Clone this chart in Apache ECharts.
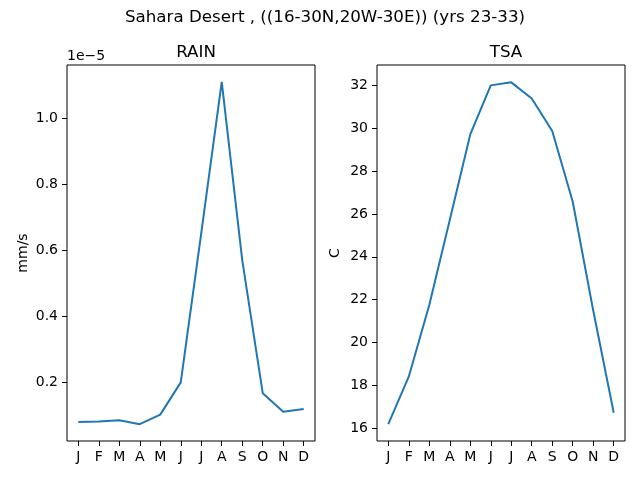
<!DOCTYPE html>
<html>
<head>
<meta charset="utf-8">
<script src="https://cdn.jsdelivr.net/npm/echarts@6/dist/echarts.min.js"></script>
<style>
  html, body { margin: 0; padding: 0; background: #fff; }
  #chart { width: 640px; height: 480px; }
</style>
</head>
<body>
<div id="chart"></div>
<script>
// month initials on the x axis
var months = ['J', 'F', 'M', 'A', 'M', 'J', 'J', 'A', 'S', 'O', 'N', 'D'];
// rain, in units of 1e-5 mm/s
var rain = [0.080, 0.081, 0.085, 0.073, 0.102, 0.200, 0.653, 1.112, 0.571, 0.167, 0.111, 0.119];
// surface air temperature, C
var tsa = [16.20, 18.41, 21.75, 25.72, 29.71, 32.00, 32.14, 31.39, 29.87, 26.57, 21.50, 16.73];
var rainTicks = [0.2, 0.4, 0.6, 0.8, 1.0];
var tsaTicks = [16, 18, 20, 22, 24, 26, 28, 30, 32];

var FONT = 'DejaVu Sans';
var monthIdx = months.map(function (m, i) { return i; });

function pairs(vals) {
    return vals.map(function (v, i) { return [i, v]; });
}

function xAxisOf(gridIndex) {
    return {
        type: 'value',
        gridIndex: gridIndex,
        min: -0.55,
        max: 11.55,
        splitLine: { show: false },
        axisLine: { show: false, onZero: false },
        axisTick: {
            show: true,
            customValues: monthIdx,
            length: 5,
            lineStyle: { color: '#000', width: 1 }
        },
        axisLabel: {
            show: true,
            customValues: monthIdx,
            margin: 9,
            color: '#000',
            fontFamily: FONT,
            fontSize: 14,
            formatter: function (v) { return months[Math.round(v)]; }
        }
    };
}

function yAxisOf(gridIndex, min, max, ticks, digits) {
    return {
        type: 'value',
        gridIndex: gridIndex,
        min: min,
        max: max,
        splitLine: { show: false },
        axisLine: { show: false, onZero: false },
        axisTick: {
            show: true,
            customValues: ticks,
            length: 5,
            lineStyle: { color: '#000', width: 1 }
        },
        axisLabel: {
            show: true,
            customValues: ticks,
            margin: 9,
            color: '#000',
            fontFamily: FONT,
            fontSize: 14,
            formatter: function (v) { return v.toFixed(digits); }
        }
    };
}

var myChart = echarts.init(document.getElementById('chart'));
myChart.setOption({
    animation: false,
    backgroundColor: '#fff',
    textStyle: { fontFamily: FONT },
    title: [
        {
            text: 'Sahara Desert , ((16-30N,20W-30E)) (yrs 23-33)',
            left: 320, top: 4, textAlign: 'center',
            textStyle: { fontFamily: FONT, fontSize: 16.7, fontWeight: 'normal', color: '#000' }
        },
        {
            text: 'RAIN',
            left: 191, top: 39, textAlign: 'center',
            textStyle: { fontFamily: FONT, fontSize: 16.7, fontWeight: 'normal', color: '#000' }
        },
        {
            text: 'TSA',
            left: 501, top: 39, textAlign: 'center',
            textStyle: { fontFamily: FONT, fontSize: 16.7, fontWeight: 'normal', color: '#000' }
        }
    ],
    grid: [
        { left: 67, right: 325, top: 65, bottom: 39, show: true, borderColor: '#000', borderWidth: 1, backgroundColor: 'transparent' },
        { left: 377, right: 15, top: 65, bottom: 39, show: true, borderColor: '#000', borderWidth: 1, backgroundColor: 'transparent' }
    ],
    xAxis: [xAxisOf(0), xAxisOf(1)],
    yAxis: [
        yAxisOf(0, 0.022, 1.163, rainTicks, 1),
        yAxisOf(1, 15.41, 32.95, tsaTicks, 0)
    ],
    graphic: [
        {
            type: 'text', x: 67, y: 56,
            style: { text: '1e\u22125', font: '14px "DejaVu Sans"', fill: '#000', align: 'left', verticalAlign: 'middle' }
        },
        {
            type: 'text', x: 23, y: 253, rotation: Math.PI / 2,
            style: { text: 'mm/s', font: '14px "DejaVu Sans"', fill: '#000', align: 'center', verticalAlign: 'middle' }
        },
        {
            type: 'text', x: 335, y: 253, rotation: Math.PI / 2,
            style: { text: 'C', font: '14px "DejaVu Sans"', fill: '#000', align: 'center', verticalAlign: 'middle' }
        }
    ],
    series: [
        {
            type: 'line', xAxisIndex: 0, yAxisIndex: 0,
            data: pairs(rain), showSymbol: false,
            lineStyle: { color: '#1f77b4', width: 2 }
        },
        {
            type: 'line', xAxisIndex: 1, yAxisIndex: 1,
            data: pairs(tsa), showSymbol: false,
            lineStyle: { color: '#1f77b4', width: 2 }
        }
    ]
});
</script>
</body>
</html>
